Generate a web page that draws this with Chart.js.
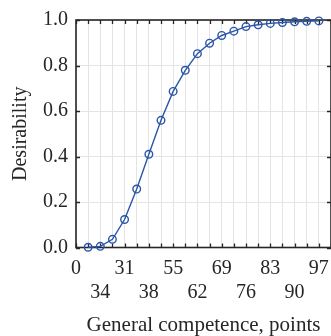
<!DOCTYPE html>
<html>
<head>
<meta charset="utf-8">
<script src="https://cdn.jsdelivr.net/npm/chart.js@4/dist/chart.umd.min.js"></script>
<style>
  html, body { margin: 0; padding: 0; overflow: hidden; background: #fff; }
</style>
</head>
<body>
<canvas id="chart" width="340" height="336"></canvas>
<script>
// data
const competence = [1, 2, 3, 4, 5, 6, 7, 8, 9, 10, 11, 12, 13, 14, 15, 16, 17, 18, 19, 20];
const desirability = [0.001, 0.005, 0.036, 0.123, 0.257, 0.41, 0.559, 0.686, 0.779, 0.852,
                      0.898, 0.932, 0.951, 0.971, 0.979, 0.985, 0.989, 0.992, 0.994, 0.996];
const tickValues = [0, 2, 4, 6, 8, 10, 12, 14, 16, 18, 20];
const tickLabels = ['0', '34', '31', '38', '55', '62', '69', '76', '83', '90', '97'];
const yTicks = [0, 0.2, 0.4, 0.6, 0.8, 1.0];

const axisColor = '#262626';
const lineColor = '#2a55a8';
const serif = "'Liberation Serif', 'Times New Roman', serif";

// box + inward tick marks, drawn under the data like the original
const frame = {
  id: 'frame',
  beforeDatasetsDraw(chart) {
    const { ctx, chartArea: a, scales } = chart;
    ctx.save();
    ctx.strokeStyle = axisColor;
    ctx.lineWidth = 1.3;
    ctx.beginPath();
    for (let v = 0; v <= 21; v++) {
      const px = Math.round(scales.x.getPixelForValue(v)) + 0.5;
      ctx.moveTo(px, a.top); ctx.lineTo(px, a.top + 4);
      ctx.moveTo(px, a.bottom); ctx.lineTo(px, a.bottom - 4);
    }
    yTicks.forEach(v => {
      const py = Math.round(scales.y.getPixelForValue(v)) + 0.5;
      ctx.moveTo(a.left, py); ctx.lineTo(a.left + 4, py);
      ctx.moveTo(a.right, py); ctx.lineTo(a.right - 4, py);
    });
    ctx.stroke();
    ctx.lineWidth = 1.6;
    ctx.strokeRect(a.left, a.top, a.right - a.left, a.bottom - a.top);
    ctx.restore();
  }
};

new Chart(document.getElementById('chart'), {
  type: 'line',
  data: {
    datasets: [{
      data: competence.map((x, i) => ({ x, y: desirability[i] })),
      borderColor: lineColor,
      borderWidth: 1.4,
      pointRadius: 3.8,
      pointBorderWidth: 1.4,
      pointBorderColor: lineColor,
      pointBackgroundColor: 'rgba(0,0,0,0)',
      tension: 0,
      clip: false
    }]
  },
  options: {
    responsive: false,
    animation: false,
    layout: { padding: { top: 19, right: 7, left: 0, bottom: 0 } },
    plugins: { legend: { display: false }, tooltip: { enabled: false } },
    scales: {
      x: {
        type: 'linear',
        min: 0,
        max: 21,
        afterFit: s => { s.height = 88.5; },
        afterBuildTicks: s => { s.ticks = Array.from({ length: 22 }, (_, v) => ({ value: v })); },
        ticks: {
          autoSkip: false,
          maxRotation: 0,
          padding: 9,
          color: axisColor,
          font: { family: serif, size: 20 },
          callback: v => {
            const i = tickValues.indexOf(v);
            if (i < 0) return '';
            return i % 2 === 0 ? [tickLabels[i], ''] : ['', tickLabels[i]];
          }
        },
        grid: { color: '#e4e4e4', lineWidth: 1, drawTicks: false },
        border: { display: false },
        title: {
          display: true,
          text: 'General competence, points',
          color: axisColor,
          font: { family: serif, size: 21 },
          padding: { top: 0, bottom: -2.5 }
        }
      },
      y: {
        min: 0,
        max: 1,
        afterFit: s => { s.width = 76; },
        afterBuildTicks: s => { s.ticks = yTicks.map(v => ({ value: v })); },
        ticks: {
          padding: 8,
          color: axisColor,
          font: { family: serif, size: 20 },
          callback: v => v.toFixed(1)
        },
        grid: { color: '#e4e4e4', lineWidth: 1, drawTicks: false },
        border: { display: false },
        title: {
          display: true,
          text: 'Desirability',
          color: axisColor,
          font: { family: serif, size: 20 },
          padding: { top: 8.5, bottom: 0 }
        }
      }
    }
  },
  plugins: [frame]
});
</script>
</body>
</html>
